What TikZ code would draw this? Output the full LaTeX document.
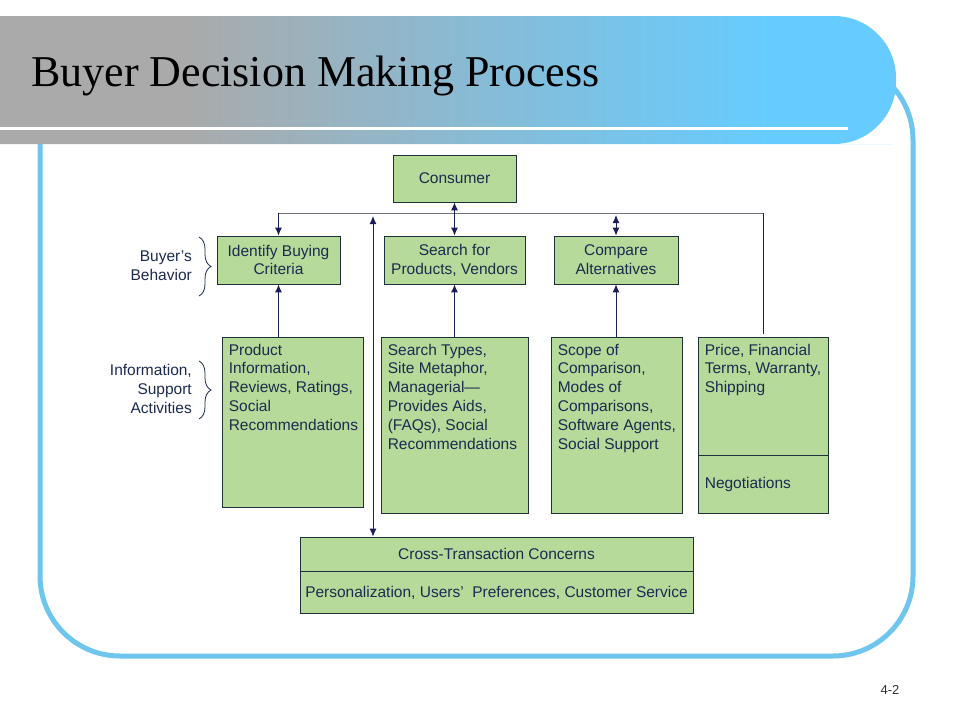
\documentclass[tikz,border=0pt]{standalone}
\usepackage{fontspec}
\setmainfont{Liberation Serif}
\setsansfont{Liberation Sans}
\usetikzlibrary{arrows.meta,decorations.pathreplacing,positioning}
\definecolor{boxgreen}{HTML}{B5DA99}
\definecolor{boxline}{HTML}{1E3038}
\definecolor{inknavy}{HTML}{1C2B4F}
\definecolor{arrnavy}{HTML}{1A1F5C}
\definecolor{trunkgray}{HTML}{6E7180}
\definecolor{frameblue}{HTML}{6EC5EE}
\definecolor{bandgray}{HTML}{AAAAAA}
\definecolor{bandblue}{HTML}{66CCFF}
\pgfdeclarehorizontalshading{bandshade}{100bp}{color(0bp)=(bandgray); color(35bp)=(bandgray); color(68bp)=(bandblue); color(100bp)=(bandblue)}

\begin{document}
\begin{tikzpicture}[x=1pt,y=-1pt,
  box/.style={draw=boxline,fill=boxgreen,line width=0.8,inner sep=0},
  boxtext/.style={font=\sffamily\fontsize{15.5}{18.8}\selectfont,text=inknavy,inner sep=0},
  arr/.style={draw=arrnavy,line width=1,-{Latex[length=8pt,width=7pt]}},
  dblarr/.style={arr,{Latex[length=8pt,width=7pt]}-{Latex[length=8pt,width=7pt]}},
  bracecurl/.style={draw=inknavy,line width=0.8,decorate,decoration={brace,amplitude=12pt}}]
\fill[white] (0,0) rectangle (960,720);
\useasboundingbox (0,0) rectangle (960,720);
% slide frame and title band
\draw[frameblue,line width=5,rounded corners=80] (40,60) rectangle (913,656);
\shade[shading=bandshade] (0,16) -- (830,16) [rounded corners=62] -- (896,16) -- (896,144) -- (830,144) [sharp corners] -- (0,144) -- cycle;
\draw[white,line width=3] (0,128) -- (848,128);
\node[anchor=base west,inner sep=0,font=\fontsize{44}{44}\selectfont,text=black] (title) at (31,86) {Buyer Decision Making Process};
\node[font=\sffamily\fontsize{13}{13}\selectfont,text=black!80] (pgno) at (890,690) {4-2};
% top
\node[box,boxtext,minimum width=123,minimum height=47] (cons) at (454.5,178.5) {Consumer};
\coordinate (hub) at (454.5,213);
% buyer's behavior row
\node[box,boxtext,align=center,minimum width=123,minimum height=48] (idc) at (278.5,260) {Identify Buying\\Criteria};
\node[box,boxtext,align=center,minimum width=141,minimum height=48] (srch) at (454.5,260) {Search for\\Products, Vendors};
\node[box,boxtext,align=center,minimum width=124,minimum height=48] (cmp) at (616,260) {Compare\\Alternatives};
% support activities row
\node[box,minimum width=141,minimum height=170] (prod) at (292.5,422) {};
\node[boxtext,anchor=north west,align=left] (prodtxt) at ([shift={(7,7)}]prod.north west) {Product\\Information,\\Reviews, Ratings,\\Social\\Recommendations};
\node[box,minimum width=147,minimum height=176] (stype) at (454.5,425) {};
\node[boxtext,anchor=north west,align=left] (stypetxt) at ([shift={(7,7)}]stype.north west) {Search Types,\\Site Metaphor,\\Managerial—\\Provides Aids,\\(FAQs), Social\\Recommendations};
\node[box,minimum width=131,minimum height=176] (scope) at (616.5,425) {};
\node[boxtext,anchor=north west,align=left] (scopetxt) at ([shift={(7,7)}]scope.north west) {Scope of\\Comparison,\\Modes of\\Comparisons,\\Software Agents,\\Social Support};
\node[box,minimum width=130,minimum height=118] (pricetop) at (763,396) {};
\node[boxtext,anchor=north west,align=left] (pricetxt) at ([shift={(7,7)}]pricetop.north west) {Price, Financial\\Terms, Warranty,\\Shipping};
\node[box,minimum width=130,minimum height=58,below=0pt of pricetop] (pricebot) {};
\node[boxtext,anchor=west] (negtxt) at ([xshift=7pt]pricebot.west) {Negotiations};
% cross-transaction
\node[box,boxtext,minimum width=393,minimum height=34] (crosstop) at (496.5,554) {Cross-Transaction Concerns};
\node[box,boxtext,minimum width=393,minimum height=42,below=0pt of crosstop] (crossbot) {Personalization, Users’\ \ Preferences, Customer Service};
% braces
\draw[bracecurl] (199,237) -- (199,296);
\node[boxtext,anchor=east,align=right] (bbeh) at (192,266) {Buyer’s\\Behavior};
\draw[bracecurl] (199,361) -- (199,419);
\node[boxtext,anchor=east,align=right] (infoact) at (192,389) {Information,\\Support\\Activities};
% connectors
\draw[trunkgray,line width=1] ([xshift=-0.5pt]idc.north |- hub) -- ([xshift=0.5pt]pricetop.north |- hub);
\draw[arr] (idc.north |- hub) -- (idc.north);
\draw[draw=arrnavy,line width=1] (pricetop.north |- hub) -- ([yshift=3pt]pricetop.north);
\draw[dblarr] (cons.south) -- (srch.north);
\draw[dblarr] ([yshift=-2pt]cmp.north |- hub) -- (cmp.north);
\coordinate (vtop) at (373,216);
\draw[dblarr] (vtop) -- (vtop |- crosstop.north);
\draw[arr] (idc.south |- prod.north) -- (idc.south);
\draw[arr] (stype.north) -- (srch.south);
\draw[arr] (cmp.south |- scope.north) -- (cmp.south);
\end{tikzpicture}
\end{document}
